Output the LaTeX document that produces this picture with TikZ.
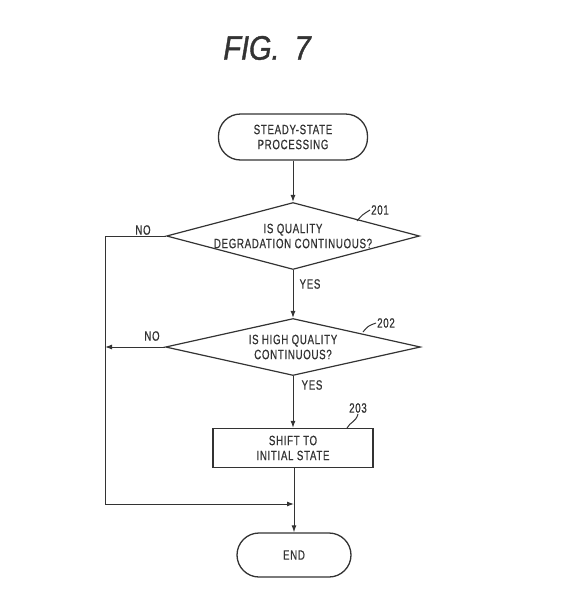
\documentclass[tikz,border=0pt]{standalone}
\usepackage{fontspec}
\setmainfont{Liberation Sans}[FakeStretch=0.72,LetterSpace=5,FakeBold=0.6]
\newfontfamily\titlefont{Liberation Sans}[FakeStretch=0.85,FakeBold=1.2]
\usetikzlibrary{shapes.geometric,arrows.meta}
\definecolor{ink}{HTML}{333333}
\begin{document}
\begin{tikzpicture}[x=1pt,y=-1pt,
  every node/.style={text=ink},
  lbl/.style={font=\fontsize{13.5}{15}\selectfont, align=center},
  term/.style={draw=ink, line width=1.3pt, rounded corners=22pt, lbl, inner sep=0pt},
  decision/.style={draw=ink, line width=1.2pt, diamond, aspect=3.8, inner sep=-6pt, lbl},
  procbox/.style={draw=ink, line width=1.3pt, rectangle, inner sep=0pt, lbl},
  flow/.style={draw=ink, line width=1pt, -{Latex[length=7pt,width=5pt]}},
  plain/.style={draw=ink, line width=1pt},
  tag/.style={font=\fontsize{13.5}{15}\selectfont, inner sep=1pt}
]
\useasboundingbox (0,0) rectangle (583,600);
\node[font=\titlefont\itshape\fontsize{34}{36}\selectfont] (title) at (267,48) {FIG.\hspace{15pt}7};

\node[term, minimum width=149pt, minimum height=46pt] (start) at (293,137) {STEADY-STATE\\PROCESSING};
\node[decision, minimum width=253pt, minimum height=67pt] (d1) at (293,236) {IS QUALITY\\DEGRADATION CONTINUOUS?};
\node[decision, minimum width=255pt, minimum height=57pt] (d2) at (293,347) {IS HIGH QUALITY\\CONTINUOUS?};
\node[procbox, minimum width=160pt, minimum height=39pt] (s3) at (293,448) {SHIFT TO\\INITIAL STATE};
\node[term, minimum width=114pt, minimum height=44pt] (end) at (294,555) {END};

\coordinate (ltop) at (105,236);
\coordinate (lmid) at (105,347);
\coordinate (lbot) at (105,504);
\coordinate (merge) at (294,504);

\draw[flow] (start) -- (d1);
\draw[flow] (d1) -- (d2);
\draw[flow] (d2) -- (s3);
\draw[flow] (s3.south -| merge) -- (end.north);
\draw[plain] (d1.west) -- (ltop) -- (lbot);
\draw[flow] (lbot) -- (merge);
\draw[flow] (d2.west) -- (lmid);

\node[tag] (no1) at (143,230) {NO};
\node[tag] (yes1) at (310,284) {YES};
\node[tag] (no2) at (152,336) {NO};
\node[tag] (yes2) at (312,385) {YES};

\node[tag] (n201) at (380,210) {201};
\node[tag] (n202) at (386,323) {202};
\node[tag] (n203) at (358,408) {203};
\draw[plain] (357,221) .. controls (362,215) .. (n201.west);
\draw[plain] (363,332) .. controls (368,326) .. (n202.west);
\draw[plain] (347,428) .. controls (350,422) and (356,422) .. (n203.south);
\end{tikzpicture}
\end{document}
